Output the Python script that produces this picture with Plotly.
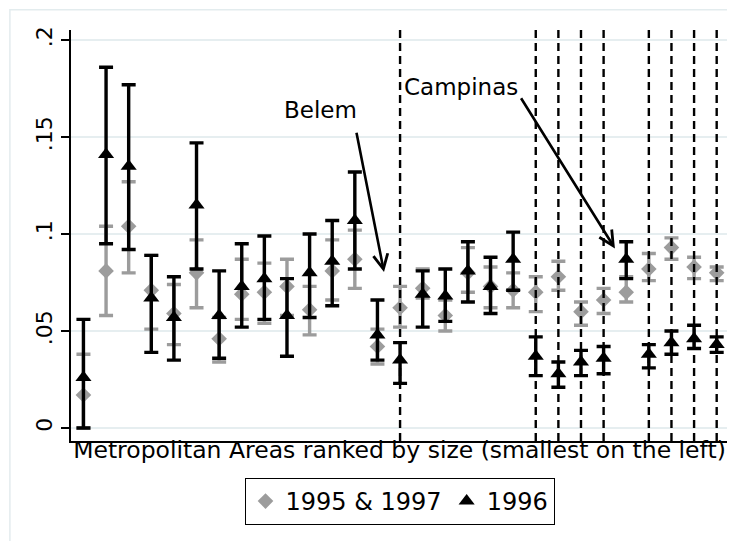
import plotly.graph_objects as go

# Metropolitan areas, ranked by size (1 = smallest)
areas = list(range(1, 30))

# 1995 & 1997 (grey diamonds) : estimate and confidence bounds
pooled_est = [0.017, 0.081, 0.104, 0.071, 0.059, 0.080, 0.046, 0.069, 0.070, 0.073,
              0.061, 0.081, 0.087, 0.042, 0.062, 0.072, 0.058, 0.080, 0.073, 0.071,
              0.070, 0.078, 0.060, 0.066, 0.070, 0.082, 0.093, 0.083, 0.080]
pooled_lo = [0.000, 0.058, 0.080, 0.051, 0.043, 0.062, 0.034, 0.056, 0.054, 0.058,
             0.048, 0.066, 0.072, 0.033, 0.052, 0.067, 0.050, 0.070, 0.062, 0.062,
             0.060, 0.071, 0.053, 0.059, 0.065, 0.076, 0.087, 0.077, 0.076]
pooled_hi = [0.038, 0.104, 0.127, 0.089, 0.074, 0.097, 0.057, 0.087, 0.085, 0.087,
             0.073, 0.097, 0.102, 0.051, 0.073, 0.082, 0.066, 0.093, 0.083, 0.080,
             0.078, 0.086, 0.065, 0.072, 0.078, 0.090, 0.098, 0.088, 0.083]

# 1996 (black triangles)
y96_est = [0.026, 0.141, 0.135, 0.067, 0.057, 0.115, 0.058, 0.073, 0.077, 0.058,
           0.080, 0.086, 0.107, 0.048, 0.035, 0.069, 0.068, 0.081, 0.073, 0.087,
           0.037, 0.028, 0.034, 0.036, 0.087, 0.038, 0.044, 0.046, 0.043]
y96_lo = [0.000, 0.095, 0.092, 0.039, 0.035, 0.082, 0.036, 0.052, 0.056, 0.037,
          0.057, 0.063, 0.082, 0.035, 0.023, 0.052, 0.055, 0.065, 0.059, 0.071,
          0.027, 0.021, 0.027, 0.028, 0.077, 0.031, 0.038, 0.041, 0.039]
y96_hi = [0.056, 0.186, 0.177, 0.089, 0.078, 0.147, 0.081, 0.095, 0.099, 0.077,
          0.100, 0.107, 0.132, 0.066, 0.044, 0.081, 0.082, 0.096, 0.088, 0.101,
          0.047, 0.034, 0.040, 0.042, 0.096, 0.043, 0.050, 0.053, 0.047]

# areas marked with a dashed line
marked_areas = [15, 21, 22, 23, 24, 26, 27, 28, 29]

y_tickvals = [0, 0.05, 0.1, 0.15, 0.2]
y_ticktext = ["0", ".05", ".1", ".15", ".2"]

FONT = "DejaVu Sans"
GREY = "#9c9c9c"


def ci_trace(est, lo, hi, name, color, symbol, size):
    return go.Scatter(
        x=areas, y=est, mode="markers", name=name,
        marker=dict(symbol=symbol, size=size, color=color),
        error_y=dict(type="data", symmetric=False,
                     array=[h - e for h, e in zip(hi, est)],
                     arrayminus=[e - l for e, l in zip(est, lo)],
                     color=color, thickness=3.4, width=7),
    )


fig = go.Figure()
fig.add_trace(ci_trace(pooled_est, pooled_lo, pooled_hi, "1995 & 1997", GREY, "diamond", 12))
fig.add_trace(ci_trace(y96_est, y96_lo, y96_hi, "1996", "black", "triangle-up", 14))

for a in marked_areas:
    fig.add_vline(x=a, line=dict(color="black", width=2.4, dash="8px,5px"))

# labels and arrows
fig.add_annotation(x=11.46, y=0.164, text="Belem", showarrow=False,
                   font=dict(size=23, color="black", family=FONT))
fig.add_annotation(x=14.29, y=0.0804, ax=13.06, ay=0.153, axref="x", ayref="y",
                   text="", showarrow=True, arrowhead=5, arrowsize=1.1,
                   arrowwidth=2.6, arrowcolor="black", standoff=0, startstandoff=0)
fig.add_annotation(x=17.7, y=0.1758, text="Campinas", showarrow=False,
                   font=dict(size=23, color="black", family=FONT))
fig.add_annotation(x=24.5, y=0.0926, ax=20.31, ay=0.1708, axref="x", ayref="y",
                   text="", showarrow=True, arrowhead=5, arrowsize=1.1,
                   arrowwidth=2.6, arrowcolor="black", standoff=0, startstandoff=0)

# faint outer frame of the graph region
fig.add_shape(type="rect", xref="paper", yref="paper",
              x0=-0.093, x1=1.2, y0=-0.4, y1=1.049,
              line=dict(color="#e3ecee", width=1.5), layer="below")

# the page body adds an 8px offset, so the figure is 8px smaller
fig.update_layout(
    width=727, height=533,
    margin=dict(l=63, r=7, t=22, b=100, autoexpand=False),
    paper_bgcolor="white", plot_bgcolor="white",
    font=dict(family=FONT, color="black"),
    showlegend=True,
    legend=dict(orientation="h", x=0.5, xanchor="center", y=-0.09, yanchor="top",
                bordercolor="black", borderwidth=1, font=dict(size=24),
                itemwidth=30, tracegroupgap=0),
    xaxis=dict(range=[0.45, 29.5], showgrid=False, zeroline=False,
               showticklabels=False, ticks="", showline=True,
               linecolor="black", linewidth=1.5, automargin=False,
               title=dict(text="Metropolitan Areas ranked by size (smallest on the left)",
                          font=dict(size=23.5), standoff=0)),
    yaxis=dict(range=[-0.0067, 0.2052], tickvals=y_tickvals, ticktext=y_ticktext,
               tickangle=-90, ticks="outside", ticklen=8, tickwidth=1.5,
               tickcolor="black", tickfont=dict(size=22), automargin=False,
               showgrid=True, gridcolor="#e6eef0", gridwidth=1.5,
               zeroline=False, showline=True, linecolor="black", linewidth=1.5),
)

fig.write_html("out.html")
